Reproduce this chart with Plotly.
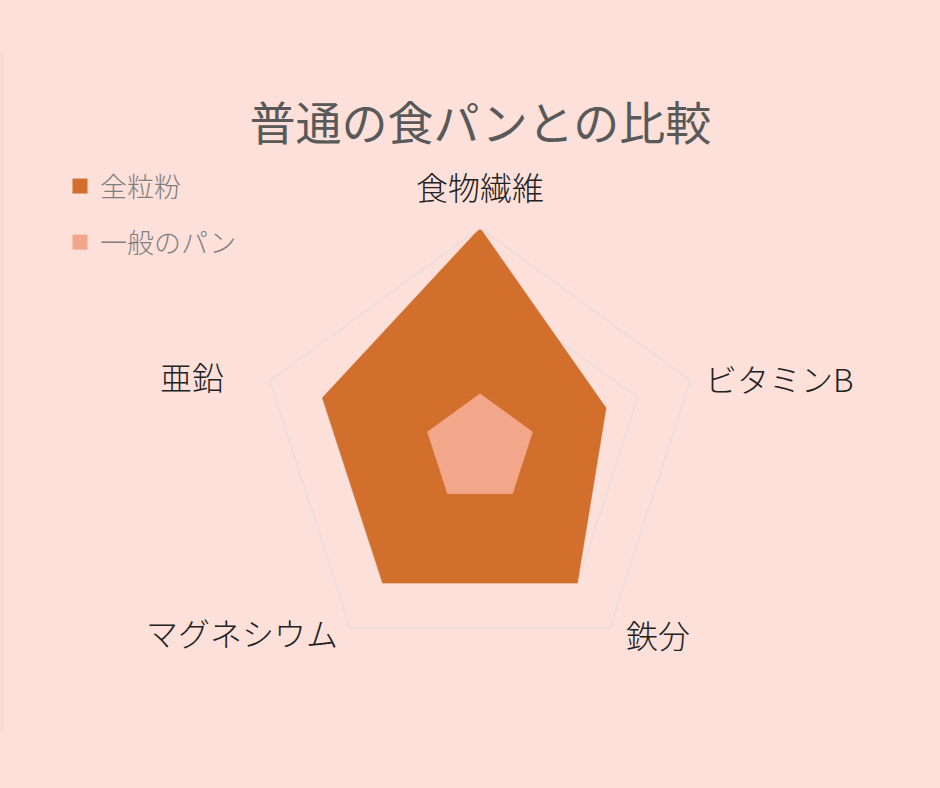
import plotly.graph_objects as go

categories = ["食物繊維", "ビタミンB", "鉄分", "マグネシウム", "亜鉛"]
whole_grain = [4, 2.4, 3, 3, 3]
normal_bread = [1, 1, 1, 1, 1]
series_names = ["全粒粉", "一般のパン"]
radial_ticks = [1, 2, 3, 4]

W, H = 940, 788
cx, cy, R = 480, 449, 221

BG = "#FDE0DA"
ORANGE = "#D36F2D"
LIGHT = "#F2A78B"
GRID = "#EEDDD8"

fig = go.Figure()
for name, vals, col in [(series_names[0], whole_grain, ORANGE),
                        (series_names[1], normal_bread, LIGHT)]:
    fig.add_trace(go.Scatterpolar(
        r=vals + vals[:1], theta=categories + categories[:1],
        mode="lines", fill="toself", fillcolor=col,
        line=dict(color=col, width=0.5), name=name, showlegend=False,
        hoverinfo="skip"))
# legend entries (square markers)
for name, col, grp in [(series_names[0], ORANGE, "a"), (series_names[1], LIGHT, "b")]:
    fig.add_trace(go.Scatterpolar(
        r=[None], theta=[categories[0]], mode="markers", name=name, legendgroup=grp,
        marker=dict(symbol="square", size=15, color=col)))

# category labels placed around the chart
label_pos = {
    "食物繊維": (480, 186),
    "ビタミンB": (779, 378),
    "鉄分": (658, 634),
    "マグネシウム": (242, 632),
    "亜鉛": (192, 376),
}
annotations = []
for cat in categories:
    x, y = label_pos[cat]
    annotations.append(dict(text=cat, x=x / W, y=1 - y / H, xref="paper", yref="paper",
                            xanchor="center", yanchor="middle", showarrow=False,
                            font=dict(size=32, color="#222222", family="Noto Sans CJK JP",
                                      weight=300)))

fig.update_layout(
    width=W, height=H,
    margin=dict(l=0, r=0, t=0, b=0),
    paper_bgcolor=BG, plot_bgcolor=BG,
    font=dict(family="Noto Sans CJK JP", color="#262626"),
    title=dict(text="普通の食パンとの比較", x=0.511, xanchor="center",
               y=1 - 124 / H, yanchor="middle",
               font=dict(size=46, color="#595959", family="Noto Sans CJK JP")),
    legend=dict(x=60 / W, y=1 - 162 / H, xanchor="left", yanchor="top",
                bgcolor="rgba(0,0,0,0)", tracegroupgap=18,
                font=dict(size=27, color="#7F7F7F", weight=300), itemwidth=30),
    polar=dict(
        bgcolor=BG,
        domain=dict(x=[(cx - R) / W, (cx + R) / W],
                    y=[(H - cy - R) / H, (H - cy + R) / H]),
        gridshape="linear",
        radialaxis=dict(range=[0, 4], tickvals=radial_ticks, showticklabels=False,
                        ticks="", showline=False, gridcolor=GRID, gridwidth=2),
        angularaxis=dict(direction="clockwise", rotation=90, showgrid=False,
                         showline=True, linecolor=GRID, linewidth=2, ticks="",
                         showticklabels=False),
    ),
    annotations=annotations,
)
fig.add_shape(type="rect", xref="paper", yref="paper", x0=0, x1=4 / W,
              y0=1 - 733 / H, y1=1 - 52 / H, line=dict(width=0),
              fillcolor="#F6DBD2", layer="below")

fig.write_html("out.html", config={"displayModeBar": False}, post_script=(
    "document.body.style.margin='0';document.body.style.background='" + BG + "';"
    "document.documentElement.style.overflow='hidden';"))
